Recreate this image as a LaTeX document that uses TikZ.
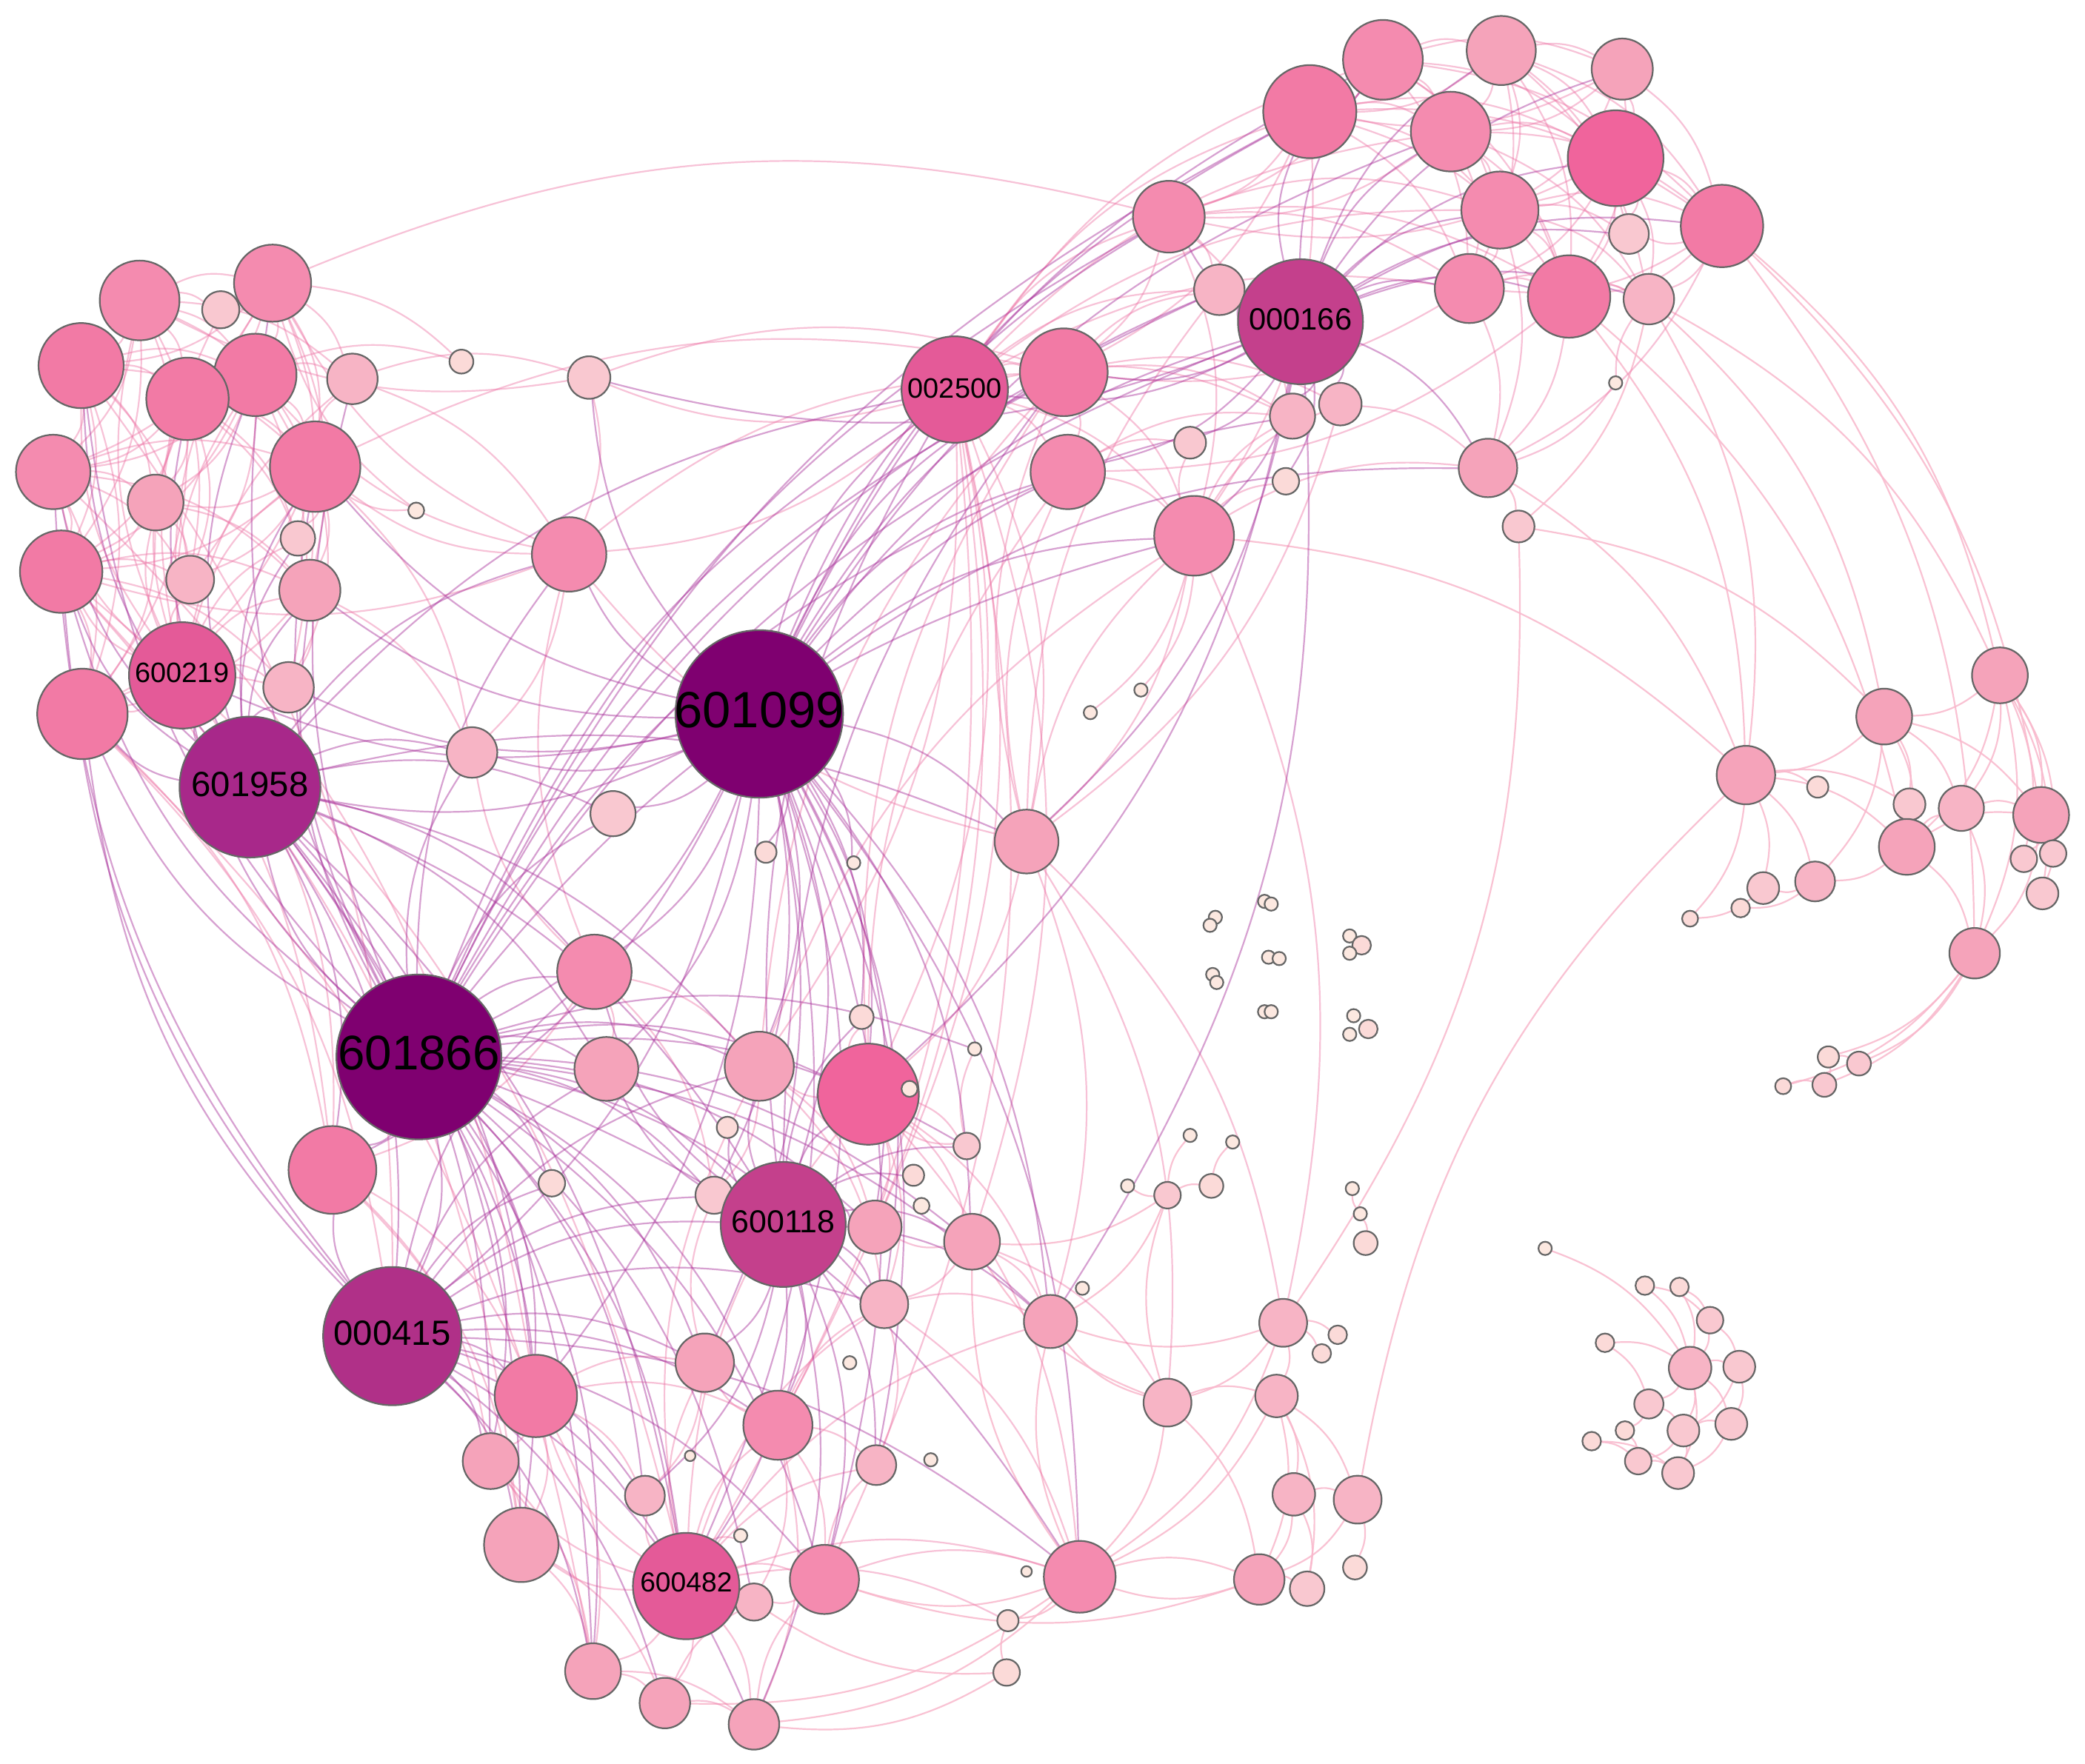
\documentclass[tikz,border=0pt]{standalone}
\usepackage{fontspec}
\setmainfont{Liberation Sans}
\definecolor{c1}{HTML}{7F0070}
\definecolor{c2}{HTML}{A8288A}
\definecolor{c2b}{HTML}{B03088}
\definecolor{c3}{HTML}{C4408C}
\definecolor{c4}{HTML}{E45A98}
\definecolor{c5}{HTML}{F0649C}
\definecolor{c6}{HTML}{F27AA5}
\definecolor{c7}{HTML}{F48BAF}
\definecolor{c8}{HTML}{F5A3BA}
\definecolor{c9}{HTML}{F7B4C5}
\definecolor{c10}{HTML}{F9C8D0}
\definecolor{c11}{HTML}{FBDAD8}
\definecolor{c12}{HTML}{FCE8E0}
\definecolor{ecolA}{HTML}{A8309A}
\definecolor{ecolB}{HTML}{EE78A8}
\definecolor{ecolC}{HTML}{F9B8CC}
\pgfdeclarelayer{bg}
\pgfsetlayers{bg,main}
\newcommand\mkedges[2]{\foreach \s/\tl in {#2} {\foreach \t in \tl {\draw[#1] (\s) to[bend left=18] (\t);}}}
\begin{document}
\begin{tikzpicture}[x=0.1mm,y=-0.1mm,
  nd/.style={circle,draw=black!60,line width=0.35pt,inner sep=0pt,outer sep=0pt},
  ue/.style={draw=ecolA,line width=0.35pt,opacity=0.45},
  pe/.style={draw=ecolB,line width=0.35pt,opacity=0.45},
  le/.style={draw=ecolC,line width=0.35pt,opacity=0.85},
  lab/.style={text=black,inner sep=0pt}]
\useasboundingbox (0,0) rectangle (1568,1326.8);
% nodes
\foreach \n/\x/\y/\r/\c in {
 t1/1040/45/30/c7, t2/1129/38/26/c8, t3/1220/52/23/c8, t4/985/84/35/c6,
 t5/1091/99/30/c7, t6/1215/119/36/c5, t7/879/163/27/c7, t8/1128/158/29/c7,
 t9/1225/176/15/c10, t10/1295/170/31/c6, t11/917/218/19/c9, t12/1105/217/26/c7,
 t13/1180/223/31/c6, t14/1240/225/19/c9, t15/800/280/33/c6, t16/972/313/17/c9,
 t17/1008/304/16/c9, t18/803/355/28/c7, t19/895/333/12/c10, t20/967/362/10/c11,
 t21/1119/352/22/c8, t22/1142/396/12/c10, t23/1215/288/5/c12, t24/898/403/30/c7,
 n000166/978/242/47/c3, n002500/718/293/40/c4,
 l1/105/226/30/c7, l2/166/233/14/c10, l3/205/213/29/c7, l4/61/275/32/c6,
 l6/192/282/31/c6, l5/141/300/31/c6, l7/265/285/19/c9, l8/347/272/9/c11,
 l9/443/284/16/c10, l10/40/355/28/c7, l11/237/351/34/c6, l12/117/378/21/c8,
 l13/313/384/6/c12, l14/224/405/13/c10, l15/46/430/31/c6, l16/143/436/18/c9,
 l17/233/444/23/c8, l18/428/417/28/c7, l19/62/537/34/c6, l20/217/517/19/c9,
 l21/355/566/19/c9, l22/461/612/17/c10, n600219/137/508/40/c4, n601958/188/592/53/c2,
 n601099/571/537/63/c1, m1/772/633/24/c8, m2/576/641/8/c11, m3/642/649/5/c12,
 m4/820/536/5/c12, m5/858/519/5/c12, m6/447/731/28/c7, n601866/315/795/62/c1,
 m7/456/804/24/c8, m8/571/802/26/c8, m9/653/823/38/c5, m10/648/765/9/c11,
 m11/684/819/6/c12, m12/733/789/5/c12, m13/250/880/33/c6, m14/415/890/10/c11,
 m15/547/848/8/c11, m16/537/899/14/c10, n600118/589/921/47/c3, m17/727/862/10/c10,
 m18/687/884/8/c11, m19/658/923/20/c8, m20/693/907/6/c12, m21/731/934/21/c8,
 n000415/295/1005/52/c2b, m22/665/981/18/c9, m23/790/994/20/c8, m24/814/969/5/c12,
 m25/530/1025/22/c8, m26/639/1025/5/c12, m27/403/1050/31/c6, m28/585/1072/26/c7,
 m29/369/1099/21/c8, m30/659/1102/15/c9, m31/700/1098/5/c12, m32/519/1095/4/c12,
 m33/485/1125/15/c9, m34/392/1162/28/c8, m36/567/1205/14/c9, n600482/516/1193/40/c4,
 m35/557/1155/5/c12, m37/620/1188/26/c7, m38/446/1257/21/c8, m39/500/1281/19/c8,
 m40/567/1297/19/c8, m41/812/1186/27/c7, m42/758/1219/8/c11, m43/757/1258/10/c11,
 m44/772/1182/4/c12,
 b1/965/995/18/c9, b2/1006/1004/7/c11, b3/994/1018/7/c11, b4/878/1055/18/c9,
 b5/960/1050/16/c9, b6/973/1124/16/c9, b7/1021/1128/18/c9, b8/947/1188/19/c8,
 b9/983/1195/13/c10, b10/1019/1179/9/c11, b11/878/899/10/c10, b12/911/892/9/c11,
 b13/848/892/5/c12, b14/895/854/5/c12, b15/927/859/5/c12, b16/1017/894/5/c12,
 b17/1023/913/5/c12, b18/1027/935/9/c11,
 x1/951/678/5/c12, x2/956/680/5/c12, x3/914/690/5/c12, x4/910/696/5/c12,
 x5/954/720/5/c12, x6/962/721/5/c12, x7/912/733/5/c12, x8/915/739/5/c12,
 x9/951/761/5/c12, x10/956/761/5/c12, x11/1015/704/5/c12, x12/1024/711/7/c11,
 x13/1015/717/5/c12, x14/1018/764/5/c12, x15/1029/774/7/c11, x16/1015/778/5/c12,
 r1/1504/508/21/c8, r2/1417/539/21/c8, r3/1313/583/22/c8, r4/1367/592/8/c11,
 r5/1436/605/12/c10, r6/1475/608/17/c9, r7/1535/613/21/c8, r8/1434/637/21/c8,
 r9/1522/646/10/c10, r10/1544/642/10/c10, r11/1536/672/12/c10, r12/1365/663/15/c9,
 r13/1326/668/12/c10, r14/1309/683/7/c11, r15/1271/691/6/c11, r16/1485/717/19/c8,
 r17/1375/795/8/c11, r18/1398/800/9/c10, r19/1341/817/6/c11, r20/1372/816/9/c10,
 q1/1162/939/5/c12, q2/1237/967/7/c11, q3/1263/968/7/c11, q4/1286/993/10/c10,
 q5/1207/1010/7/c11, q6/1271/1029/16/c9, q7/1308/1028/12/c10, q8/1240/1056/11/c10,
 q9/1266/1076/12/c10, q10/1302/1071/12/c10, q11/1222/1076/7/c11, q12/1197/1084/7/c11,
 q13/1232/1099/10/c10, q14/1262/1108/12/c10}
 {\node[nd,fill=\c,minimum size=\r*0.2mm] (\n) at (\x,\y) {};}
% labels
\node[lab,font=\fontsize{10.9}{12}\selectfont] (lab601099) at (571,534) {601099};
\node[lab,font=\fontsize{10.4}{12}\selectfont] (lab601866) at (315,792) {601866};
\node[lab,font=\fontsize{7.5}{9}\selectfont] (lab601958) at (188,590) {601958};
\node[lab,font=\fontsize{7.5}{9}\selectfont] (lab000415) at (295,1003) {000415};
\node[lab,font=\fontsize{6.8}{8}\selectfont] (lab600118) at (589,919) {600118};
\node[lab,font=\fontsize{6.6}{8}\selectfont] (lab000166) at (978,240) {000166};
\node[lab,font=\fontsize{6.0}{7}\selectfont] (lab600219) at (137,506) {600219};
\node[lab,font=\fontsize{6.0}{7}\selectfont] (lab002500) at (718,292) {002500};
\node[lab,font=\fontsize{5.9}{7}\selectfont] (lab600482) at (516,1190) {600482};
% edges
\begin{pgfonlayer}{bg}
\fill[white] (0,0) rectangle (1568,1326.8);
\mkedges{le}{
 t14/{r1,r2,r3,t22}, t10/{r1,r16,r7}, t13/{r3,r8}, t21/{r3,t22}, t22/{b1,r2}, t24/{r3},
 r1/{r2,r6,r7,r9,r10,r11,r16,r8}, r2/{r3,r6,r5,r8,r7,r12}, r3/{r4,r8,r12,r13,r5,r15},
 r8/{r5,r6,r7,r16,r12}, r6/{r7,r16}, r7/{r9,r10,r11,r16}, r12/{r13,r14}, r13/{r15},
 r16/{r17,r18,r20,r19}, r17/{r18,r20}, r19/{r20},
 b1/{b2,b3,b5,b4,m23,m41}, b4/{b5,m23,m41,b8,m21,b11}, b5/{b6,b7,b8,b9,m41},
 b6/{b7,b8,b9}, b7/{b8,b10,r3}, b8/{b9,m41,m37}, b11/{b12,b13,m23,m21,b14},
 b12/{b15}, b17/{b16,b18}, m41/{m23,m37,m40,m39,b8,m21,m42}, m43/{m42,m36,m40},
 q1/{q6}, q2/{q6,q4}, q3/{q4,q6}, q4/{q7,q6}, q5/{q6,q8}, q6/{q7,q8,q9,q10,q14},
 q7/{q10,q9}, q8/{q9,q11}, q9/{q10,q13,q14}, q10/{q14}, q11/{q13}, q12/{q14,q13}, q13/{q14}}
\mkedges{pe}{
 n600219/{l1,l3,l4,l5,l6,l10,l11,l12,l15,l16,l17,l19,l20,l14,l7,l2,m13},
 n002500/{t15,t18,t7,t4,t1,t5,t24,t16,t11,m1,m9,m8,m28,m21,l9,l18,m19,n600482,m37,t12,t8},
 n600482/{m33,m34,m36,m37,m38,m39,m40,m28,m25,m30,m41,m35,m27,m29,m22,m23,m42,m9,m8},
 l1/{l2,l3,l4,l5,l6,l10,l11,l12,l15,l7,l16},
 l3/{l2,l5,l6,l7,l11,l4,l10,l14,l17,l8,t7},
 l4/{l5,l6,l10,l11,l12,l15,l19,l16,n000415},
 l5/{l6,l10,l11,l12,l14,l15,l16,l17,l19},
 l6/{l7,l10,l11,l12,l15,l16,l17,l20,l8},
 l10/{l11,l12,l15,l19,l16,l17,m27},
 l11/{l12,l14,l15,l16,l17,l19,l20,l21,l7,t15},
 l12/{l15,l16,l17,l19},
 l15/{l16,l17,l19,l20,m13,m34,n600482},
 l17/{l19,l20,l21}, l19/{m13,l20,n000415,m38}, l7/{l9,l18}, l9/{l1,t15,l18},
 l18/{l3,l6,l15,l11,t15,l21}, l13/{l11,l3},
 t1/{t2,t3,t4,t5,t6,t8,t10,t12,t13,t7}, t2/{t3,t4,t5,t6,t8,t10,t12,t13,t14,t9},
 t3/{t4,t5,t6,t10,t13,t8}, t4/{t5,t6,t7,t8,t12,t13,t10,t15,t24},
 t5/{t6,t8,t10,t12,t13,t14,t7}, t6/{t8,t9,t10,t12,t13,t14,t7},
 t7/{t8,t12,t13,t15,t16,t24,t11}, t8/{t9,t10,t12,t13,t14,t21},
 t10/{t12,t13,t14,t9,t21}, t12/{t13,t14,t21,t15}, t13/{t14,t21,t18},
 t15/{t18,t24,t16,t17,t11}, t18/{t24,t16,t19}, t24/{t16,t17,t19,t20,t21,m1,b1,m4,m5},
 t17/{t21,m1}, t23/{t14,t21},
 m1/{t15,t18,t24,b1,b4,m23,m9,t11,l18}, m6/{m7,m8,m13,l18,l21,m16},
 m9/{m19,m21,m22,m17,m10,m8,t15,t18,m23,m41}, m8/{m19,m16,m22,t15,t24},
 m13/{m27,m29,m34}, m27/{m29,m34,m33,m38,m25,m28}, m28/{m30,m37,m25,m22,m40,m36},
 m29/{m34,m38}, m34/{m38,m39}, m38/{m39,m40}, m39/{m40,m36}, m40/{m37},
 m37/{m36,m30,m41}, m25/{m33,m16}, m21/{m19,m22,m23,b4}, m22/{m23,m30,m41}, m17/{m9,m12}}
\mkedges{ue}{
 n601099/{n002500,t15,t18,t24,n000166,t7,t11,t16,t4,t1,t5,t21,l18,l9,n601958,n600219,l11,l17,l20,l21,l22,m1,n601866,m6,m7,m8,m9,m10,n600118,m19,m21,m16,n000415,m27,m25,m28,n600482,m37,m30,m22,m13,m2,m3,m41,m23},
 n601866/{n002500,t15,t18,n000166,t24,t4,t7,t11,n601958,n600219,l11,l17,l18,l21,l22,m6,m7,m8,m9,n600118,m16,m19,m21,m13,m14,n000415,m27,m28,m25,m29,m33,m34,n600482,m37,m36,m38,m23,m22,m41,l15,l19,l4,m12,m17,l7,l3},
 n601958/{n600219,l19,l15,l11,l17,l14,l20,l21,l22,n000415,m13,m27,m34,l4,l10,l6,l5,m6,m7,n600118,m8,n002500,m1,n600482,m29,l18,m38},
 n000415/{m13,m27,m29,m34,n600482,m38,m39,m40,m25,m28,n600118,m7,m6,m33,m37,m16,m8,l19,l15,l10,m22,m41,m14},
 n600118/{m8,m9,m19,m21,m22,m25,m28,n600482,m16,m15,m37,m30,n002500,t15,m7,m6,m23,m17,m18,m33,m40,m10},
 n000166/{t4,t7,t11,t12,t13,t14,t15,t16,t17,t18,t19,t20,t21,t24,t5,t6,t8,t10,t1,t2,m1,m23,t9,t3,n002500,l9,m9}}
\end{pgfonlayer}
\end{tikzpicture}
\end{document}
